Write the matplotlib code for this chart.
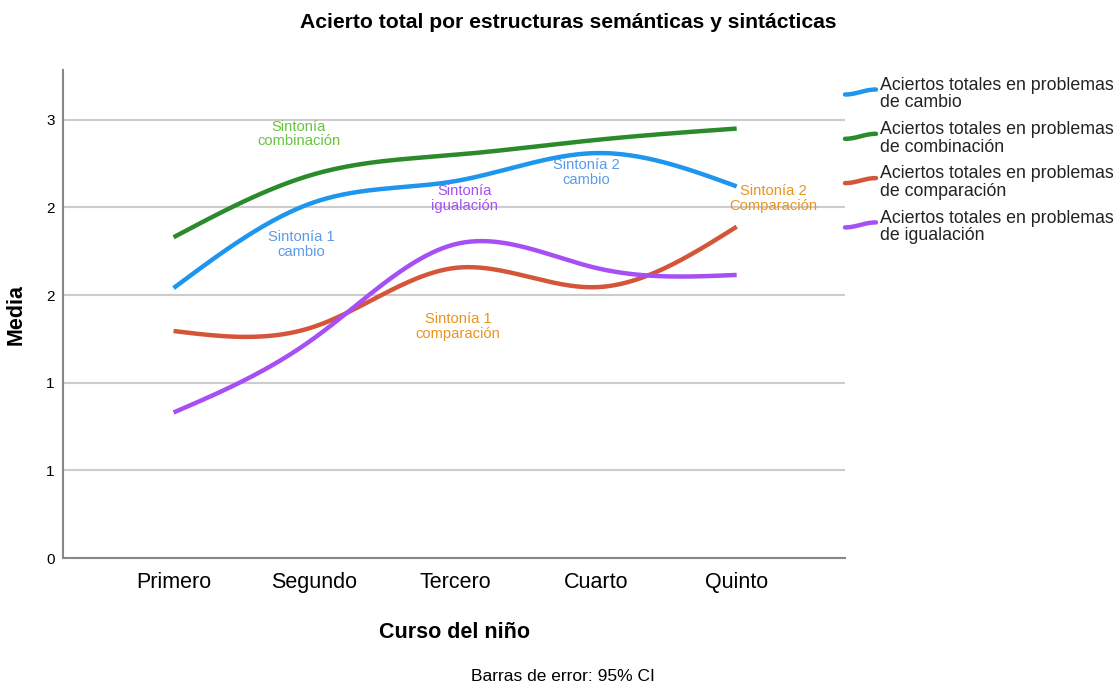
import matplotlib.pyplot as plt
import numpy as np

plt.rcParams['font.family'] = ['Liberation Sans', 'DejaVu Sans']

# Data
cursos = ['Primero', 'Segundo', 'Tercero', 'Cuarto', 'Quinto']
cambio = [1.54, 2.03, 2.15, 2.31, 2.12]
combinacion = [1.83, 2.19, 2.30, 2.385, 2.45]
comparacion = [1.295, 1.32, 1.655, 1.545, 1.89]
igualacion = [0.83, 1.255, 1.79, 1.655, 1.615]

series = [
    ('Aciertos totales en problemas\nde cambio', cambio, '#1e96ee'),
    ('Aciertos totales en problemas\nde combinación', combinacion, '#2b8a2b'),
    ('Aciertos totales en problemas\nde comparación', comparacion, '#d5553a'),
    ('Aciertos totales en problemas\nde igualación', igualacion, '#a64ff5'),
]

notas = [
    ('Sintonía\ncombinación', 0.89, 2.42, '#66c43f'),
    ('Sintonía 1\ncambio', 0.91, 1.79, '#5a9be8'),
    ('Sintonía\nigualación', 2.07, 2.05, '#a64ff5'),
    ('Sintonía 2\ncambio', 2.93, 2.20, '#5a9be8'),
    ('Sintonía 1\ncomparación', 2.02, 1.32, '#e8941e'),
    ('Sintonía 2\nComparación', 4.26, 2.05, '#e8941e'),
]


def spline(x, y, n=200):
    # natural cubic spline through the points, only for drawing smooth lines
    x = np.asarray(x, float)
    y = np.asarray(y, float)
    k = len(x)
    h = np.diff(x)
    A = np.zeros((k, k))
    b = np.zeros(k)
    A[0, 0] = A[-1, -1] = 1
    for i in range(1, k - 1):
        A[i, i - 1] = h[i - 1]
        A[i, i] = 2 * (h[i - 1] + h[i])
        A[i, i + 1] = h[i]
        b[i] = 3 * ((y[i + 1] - y[i]) / h[i] - (y[i] - y[i - 1]) / h[i - 1])
    c = np.linalg.solve(A, b)
    xs = np.linspace(x[0], x[-1], n)
    idx = np.clip(np.searchsorted(x, xs) - 1, 0, k - 2)
    dx = xs - x[idx]
    hi = h[idx]
    bb = (y[idx + 1] - y[idx]) / hi - hi * (2 * c[idx] + c[idx + 1]) / 3
    dd = (c[idx + 1] - c[idx]) / (3 * hi)
    ys = y[idx] + bb * dx + c[idx] * dx ** 2 + dd * dx ** 3
    return xs, ys


fig = plt.figure(figsize=(11.18, 6.85), dpi=100)
ax = fig.add_axes([0.0564, 0.1854, 0.6995, 0.7124])

xpos = np.arange(len(cursos))
for nombre, vals, col in series:
    xs, ys = spline(xpos, vals)
    ax.plot(xs, ys, color=col, lw=3.2, solid_capstyle='butt', zorder=3)

for txt, x, y, col in notas:
    ax.text(x, y, txt, color=col, fontsize=10.6, ha='center', va='center',
            linespacing=1.05, zorder=4)

ax.set_xlim(-0.785, 4.77)
ax.set_ylim(0, 2.784)
yt = [0, 0.5, 1.0, 1.5, 2.0, 2.5]
ax.set_yticks(yt)
ax.set_yticklabels(['0', '1', '1', '2', '2', '3'])
ax.set_xticks(xpos)
ax.set_xticklabels(cursos, fontsize=15.5)
ax.tick_params(axis='y', labelsize=11, length=0, pad=6)
ax.tick_params(axis='x', length=0, pad=10)
ax.grid(axis='y', color='#cccccc', lw=1.5, zorder=0)
for s in ['top', 'right']:
    ax.spines[s].set_visible(False)
for s in ['left', 'bottom']:
    ax.spines[s].set_color('#888888')
    ax.spines[s].set_linewidth(1.5)

ax.set_ylabel('Media', fontsize=15.5, fontweight='bold', labelpad=14)
ax.set_xlabel('Curso del niño', fontsize=15.5, fontweight='bold', labelpad=21)

fig.text(0.5085, 0.967, 'Acierto total por estructuras semánticas y sintácticas',
         ha='center', va='center', fontsize=15.2, fontweight='bold')
fig.text(0.5035, 0.002, 'Barras de error: 95% CI', ha='center', va='bottom',
         fontsize=12.5)

# legend drawn in figure pixel coordinates
lg = fig.add_axes([0, 0, 1, 1], facecolor='none')
lg.set_xlim(0, 1118)
lg.set_ylim(685, 0)
lg.axis('off')
t = np.linspace(0, 1, 40)
for i, (nombre, vals, col) in enumerate(series):
    yc = 92 + i * 44.3
    wx = 845 + 31 * t
    wy = yc + 2.5 * np.cos(np.pi * t)
    lg.plot(wx, wy, color=col, lw=3.2, solid_capstyle='round')
    lg.text(880, yc + 2, nombre, fontsize=12.8, va='center', ha='left',
            linespacing=1.05, color='#222222')

fig.savefig('out.png', dpi=100)
